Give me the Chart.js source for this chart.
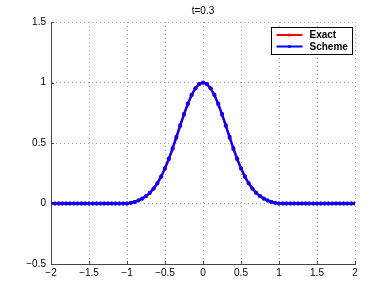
<!DOCTYPE html>
<html>
<head>
<meta charset="utf-8">
<script src="https://cdn.jsdelivr.net/npm/chart.js@4/dist/chart.umd.min.js"></script>
<style>
  html, body { margin: 0; padding: 0; background: #fff; }
  #wrap { width: 392px; height: 296px; }
</style>
</head>
<body>
<div id="wrap"><canvas id="plot" width="392" height="296"></canvas></div>
<script>
// data
const titleText = 't=0.3';
const xValues = [
  -2, -1.95, -1.9, -1.85, -1.8, -1.75, -1.7, -1.65, -1.6, -1.55,
  -1.5, -1.45, -1.4, -1.35, -1.3, -1.25, -1.2, -1.15, -1.1, -1.05,
  -1, -0.95, -0.9, -0.85, -0.8, -0.75, -0.7, -0.65, -0.6, -0.55,
  -0.5, -0.45, -0.4, -0.35, -0.3, -0.25, -0.2, -0.15, -0.1, -0.05,
  0,
  0.05, 0.1, 0.15, 0.2, 0.25, 0.3, 0.35, 0.4, 0.45, 0.5,
  0.55, 0.6, 0.65, 0.7, 0.75, 0.8, 0.85, 0.9, 0.95, 1,
  1.05, 1.1, 1.15, 1.2, 1.25, 1.3, 1.35, 1.4, 1.45, 1.5,
  1.55, 1.6, 1.65, 1.7, 1.75, 1.8, 1.85, 1.9, 1.95, 2
];
const exactValues = [
  0, 0, 0, 0, 0, 0, 0, 0, 0, 0,
  0, 0, 0, 0, 0, 0, 0, 0, 0, 0,
  0, 0.005, 0.012, 0.024, 0.040, 0.060, 0.086, 0.121, 0.165, 0.220,
  0.287, 0.363, 0.449, 0.542, 0.638, 0.732, 0.819, 0.894, 0.951, 0.988,
  1.000,
  0.988, 0.951, 0.894, 0.819, 0.732, 0.638, 0.542, 0.449, 0.363, 0.287,
  0.220, 0.165, 0.121, 0.086, 0.060, 0.040, 0.024, 0.012, 0.005, 0,
  0, 0, 0, 0, 0, 0, 0, 0, 0, 0,
  0, 0, 0, 0, 0, 0, 0, 0, 0, 0
];
const schemeValues = [
  0, 0, 0, 0, 0, 0, 0, 0, 0, 0,
  0, 0, 0, 0, 0, 0, 0, 0, 0, 0,
  0, 0.006, 0.013, 0.025, 0.041, 0.062, 0.089, 0.125, 0.170, 0.226,
  0.294, 0.371, 0.458, 0.552, 0.648, 0.741, 0.826, 0.898, 0.952, 0.987,
  0.998,
  0.987, 0.952, 0.898, 0.826, 0.741, 0.648, 0.552, 0.458, 0.371, 0.294,
  0.226, 0.170, 0.125, 0.089, 0.062, 0.041, 0.025, 0.013, 0.006, 0,
  0, 0, 0, 0, 0, 0, 0, 0, 0, 0,
  0, 0, 0, 0, 0, 0, 0, 0, 0, 0
];
const seriesNames = ['Exact', 'Scheme'];
const seriesColors = ['#ff0000', '#0000ff'];
const xTicks = [-2, -1.5, -1, -0.5, 0, 0.5, 1, 1.5, 2];
const yTicks = [-0.5, 0, 0.5, 1, 1.5];

const FONT = 'Liberation Sans, Arial, Helvetica, sans-serif';

function fmt(v) {
    const s = String(v);
    return v < 0 ? '\u2212' + s.slice(1) : s;
}

// title, inward tick marks and the boxed legend, MATLAB style
const matlabDecor = {
    id: 'matlabDecor',
    afterDraw(chart) {
        const ctx = chart.ctx;
        const area = chart.chartArea;
        const xs = chart.scales.x;
        const ys = chart.scales.y;

        ctx.save();
        ctx.fillStyle = '#000';
        ctx.font = '10px ' + FONT;
        ctx.textAlign = 'center';
        ctx.textBaseline = 'middle';
        ctx.fillText(titleText, (area.left + area.right) / 2, 11);

        ctx.strokeStyle = '#444';
        ctx.lineWidth = 1;
        ctx.beginPath();
        xTicks.forEach(v => {
            const px = Math.round(xs.getPixelForValue(v)) + 0.5;
            ctx.moveTo(px, area.bottom);
            ctx.lineTo(px, area.bottom - 3);
        });
        yTicks.forEach(v => {
            const py = Math.round(ys.getPixelForValue(v)) + 0.5;
            ctx.moveTo(area.left, py);
            ctx.lineTo(area.left + 3, py);
        });
        ctx.stroke();

        // legend box
        const bx = 271.5, by = 27.5, bw = 81, bh = 27;
        ctx.fillStyle = '#fff';
        ctx.fillRect(bx, by, bw, bh);
        ctx.strokeStyle = '#000';
        ctx.lineWidth = 1;
        ctx.strokeRect(bx, by, bw, bh);
        ctx.font = 'bold 10px ' + FONT;
        ctx.textAlign = 'left';
        seriesNames.forEach((name, i) => {
            const yy = by + 7.5 + i * 11.5;
            ctx.strokeStyle = seriesColors[i];
            ctx.lineWidth = 2;
            ctx.beginPath();
            ctx.moveTo(bx + 5, yy);
            ctx.lineTo(bx + 31, yy);
            ctx.stroke();
            ctx.fillStyle = seriesColors[i];
            ctx.beginPath();
            ctx.arc(bx + 18, yy, 1.6, 0, Math.PI * 2);
            ctx.fill();
            ctx.fillStyle = '#000';
            ctx.fillText(name, bx + 38, yy + 0.5);
        });
        ctx.restore();
    }
};

function toPoints(ys) {
    return xValues.map((x, i) => ({ x: x, y: ys[i] }));
}

new Chart(document.getElementById('plot'), {
    type: 'line',
    data: {
        datasets: [
            {
                label: seriesNames[0],
                data: toPoints(exactValues),
                borderColor: seriesColors[0],
                backgroundColor: seriesColors[0],
                borderWidth: 2.2,
                pointRadius: 2,
                pointBorderWidth: 0,
                tension: 0,
                order: 1
            },
            {
                label: seriesNames[1],
                data: toPoints(schemeValues),
                borderColor: seriesColors[1],
                backgroundColor: seriesColors[1],
                borderWidth: 2.2,
                pointRadius: 2,
                pointBorderWidth: 0,
                tension: 0,
                order: 0
            }
        ]
    },
    options: {
        responsive: false,
        animation: false,
        devicePixelRatio: 1,
        layout: { padding: { top: 22, right: 37, left: 0, bottom: 0 } },
        plugins: {
            legend: { display: false },
            title: { display: false },
            tooltip: { enabled: false }
        },
        scales: {
            x: {
                type: 'linear',
                min: -2,
                max: 2,
                afterBuildTicks: axis => { axis.ticks = xTicks.map(v => ({ value: v })); },
                afterFit: axis => { axis.height = 32; },
                grid: { color: 'rgba(0,0,0,0.35)', drawTicks: false, lineWidth: 1 },
                border: { display: true, color: '#444', width: 1, dash: [1, 3] },
                ticks: {
                    padding: 3,
                    color: '#000',
                    font: { family: FONT, size: 10 },
                    maxRotation: 0,
                    callback: v => fmt(v)
                }
            },
            y: {
                type: 'linear',
                min: -0.5,
                max: 1.5,
                afterBuildTicks: axis => { axis.ticks = yTicks.map(v => ({ value: v })); },
                afterFit: axis => { axis.width = 51; },
                grid: { color: 'rgba(0,0,0,0.35)', drawTicks: false, lineWidth: 1 },
                border: { display: true, color: '#444', width: 1, dash: [1, 3] },
                ticks: {
                    padding: 5,
                    color: '#000',
                    font: { family: FONT, size: 10 },
                    callback: v => fmt(v)
                }
            }
        }
    },
    plugins: [matlabDecor]
});
</script>
</body>
</html>
